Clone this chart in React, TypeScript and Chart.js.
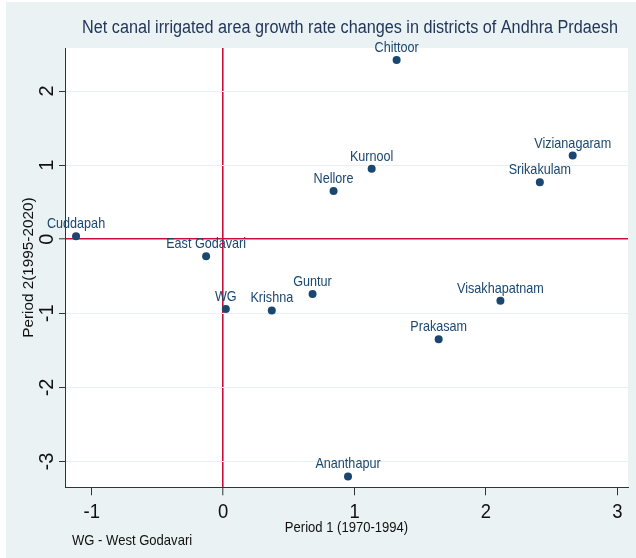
import React, { useEffect, useRef } from "react";
import { Chart, registerables } from "chart.js";

Chart.register(...registerables);

const districts = [
  "Chittoor",
  "Vizianagaram",
  "Srikakulam",
  "Kurnool",
  "Nellore",
  "Cuddapah",
  "East Godavari",
  "WG",
  "Krishna",
  "Guntur",
  "Visakhapatnam",
  "Prakasam",
  "Ananthapur",
];
const period1 = [1.32, 2.66, 2.41, 1.13, 0.84, -1.12, -0.13, 0.02, 0.37, 0.68, 2.11, 1.64, 0.95];
const period2 = [2.42, 1.13, 0.77, 0.95, 0.65, 0.04, -0.23, -0.94, -0.96, -0.74, -0.83, -1.35, -3.2];

const xTicks = [-1, 0, 1, 2, 3];
const yTicks = [-3, -2, -1, 0, 1, 2];

const titleText = "Net canal irrigated area growth rate changes in districts of Andhra Prdaesh";
const xTitle = "Period 1 (1970-1994)";
const yTitle = "Period 2(1995-2020)";
const noteText = "WG - West Godavari";

const BG = "#eaf2f3";
const NAVY = "#1a476f";
const RED = "#c8103a";
const FONT = '"Liberation Sans", Arial, sans-serif';

function drawText(
  ctx: CanvasRenderingContext2D,
  text: string,
  x: number,
  y: number,
  size: number,
  color: string,
  align: CanvasTextAlign,
  rotate: boolean,
  sq: number
) {
  ctx.save();
  ctx.translate(x, y);
  ctx.scale(sq, 1);
  if (rotate) ctx.rotate(-Math.PI / 2);
  ctx.font = `${size}px ${FONT}`;
  ctx.fillStyle = color;
  ctx.textAlign = align;
  ctx.textBaseline = "alphabetic";
  ctx.fillText(text, 0, 0);
  ctx.restore();
}

const stataPlugin = {
  id: "stataLook",
  beforeDraw(chart: any) {
    const { ctx, chartArea, width, height } = chart;
    ctx.save();
    ctx.fillStyle = BG;
    ctx.fillRect(0, 0, width, height);
    ctx.fillStyle = "#ffffff";
    ctx.fillRect(chartArea.left, chartArea.top, chartArea.right - chartArea.left, chartArea.bottom - chartArea.top);
    ctx.restore();
  },
  afterDraw(chart: any) {
    const { ctx, chartArea } = chart;
    const xs = chart.scales.x;
    const ys = chart.scales.y;
    drawText(ctx, titleText, 344, 31, 18, "#22375a", "center", false, 0.9);
    xs.ticks.forEach((t: any) => {
      drawText(ctx, String(t.value), xs.getPixelForValue(t.value), 516, 20.5, "#111", "center", false, 0.9);
    });
    ys.ticks.forEach((t: any) => {
      drawText(ctx, String(t.value), 47, ys.getPixelForValue(t.value), 20, "#111", "center", true, 1);
    });
    drawText(ctx, xTitle, (chartArea.left + chartArea.right) / 2, 530, 14.5, "#111", "center", false, 0.9);
    drawText(ctx, yTitle, 27, (chartArea.top + chartArea.bottom) / 2, 15.3, "#111", "center", true, 0.95);
    drawText(ctx, noteText, 66, 543, 14.5, "#111", "left", false, 0.9);
    const meta = chart.getDatasetMeta(0);
    meta.data.forEach((pt: any, i: number) => {
      drawText(ctx, districts[i], pt.x, pt.y - 8, 14.5, NAVY, "center", false, 0.87);
    });
  },
};

export default function App() {
  const ref = useRef<HTMLCanvasElement | null>(null);
  useEffect(() => {
    document.body.style.margin = "0";
    const canvas = ref.current!;
    const chart = new Chart(canvas, {
      type: "scatter",
      data: {
        datasets: [
          {
            data: period1.map((x, i) => ({ x, y: period2[i] })),
            backgroundColor: NAVY,
            borderColor: NAVY,
            borderWidth: 0,
            pointRadius: 4,
            pointHoverRadius: 4,
          },
        ],
      },
      options: {
        responsive: false,
        animation: false,
        devicePixelRatio: 1,
        layout: { padding: { top: 46, right: 8, left: 0, bottom: 0 } },
        plugins: {
          legend: { display: false },
          tooltip: { enabled: false },
          title: { display: false },
        },
        scales: {
          x: {
            type: "linear",
            min: -1.204,
            max: 3.081,
            afterBuildTicks: (s: any) => {
              s.ticks = xTicks.map((v) => ({ value: v }));
            },
            afterFit: (s: any) => {
              s.height = 70.7;
            },
            ticks: { display: false },
            border: { display: true, color: "#333", width: 1 },
            grid: {
              drawOnChartArea: true,
              drawTicks: true,
              tickLength: 8,
              tickColor: "#333",
              tickWidth: 1,
              color: (c: any) => (c.tick && c.tick.value === 0 ? RED : "rgba(0,0,0,0)"),
              lineWidth: (c: any) => (c.tick && c.tick.value === 0 ? 1.6 : 1),
            },
          },
          y: {
            type: "linear",
            min: -3.347,
            max: 2.581,
            afterBuildTicks: (s: any) => {
              s.ticks = yTicks.map((v) => ({ value: v }));
            },
            afterFit: (s: any) => {
              s.width = 59;
            },
            ticks: { display: false },
            border: { display: true, color: "#333", width: 1 },
            grid: {
              drawOnChartArea: true,
              drawTicks: true,
              tickLength: 6,
              tickColor: "#333",
              tickWidth: 1,
              color: (c: any) => (c.tick && c.tick.value === 0 ? RED : "#e6eff1"),
              lineWidth: (c: any) => (c.tick && c.tick.value === 0 ? 1.6 : 1),
            },
          },
        },
      },
      plugins: [stataPlugin],
    });
    return () => chart.destroy();
  }, []);
  return (
    <div style={{ position: "absolute", left: 6, top: 2, width: 630, height: 556, background: BG }}>
      <canvas ref={ref} width={630} height={556} style={{ display: "block", width: 630, height: 556 }} />
    </div>
  );
}
